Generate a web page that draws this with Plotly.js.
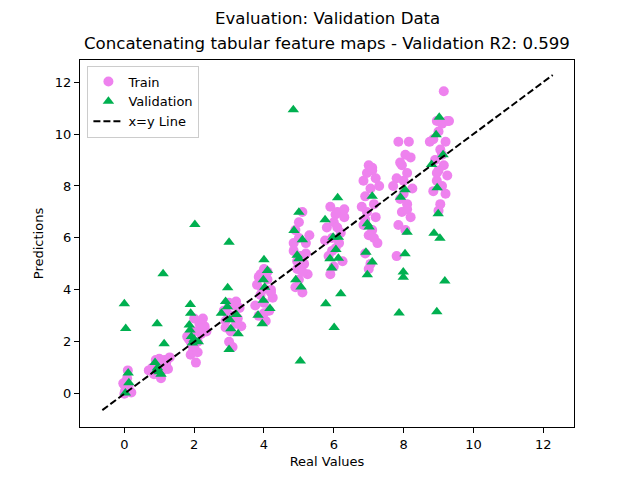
<!DOCTYPE html>
<html>
<head>
<meta charset="utf-8">
<script src="https://cdn.plot.ly/plotly-3.0.1.min.js"></script>
<style>html,body{margin:0;padding:0;background:#fff;}#chart{width:640px;height:480px;}</style>
</head>
<body>
<div id="chart"></div>
<script>
// Train data (real, predicted)
const trainReal = [
  0.0,0.05,0.1,-0.03,0.15,0.2,0.08,0.02,0.12,0.0,
  0.8,0.9,1.0,1.1,1.2,1.3,0.85,1.05,1.15,0.95,1.25,0.7,1.0,1.2,
  1.9,2.0,2.1,2.2,2.3,2.0,1.85,1.95,2.05,2.25,2.15,1.9,2.1,2.35,1.8,2.0,2.2,1.95,
  2.85,3.0,3.1,3.2,3.3,2.9,3.05,3.15,3.25,3.0,2.95,3.35,3.1,3.2,2.9,
  3.8,3.9,4.0,4.1,4.2,3.9,4.0,4.15,3.85,4.05,3.95,4.25,3.75,4.1,4.0,3.85,4.2,
  5.1,4.9,5.0,5.2,4.85,5.05,5.15,4.95,5.25,5.0,4.9,5.1,4.85,5.3,5.0,5.2,4.95,5.1,
  5.9,6.1,6.3,6.0,5.8,6.2,5.95,6.15,6.05,5.85,6.25,6.0,5.9,6.1,6.3,5.75,6.05,5.95,
  7.0,6.95,7.1,6.85,7.2,7.05,6.9,7.15,6.95,7.2,6.85,7.1,7.0,7.25,6.9,7.05,7.0,7.15,6.8,7.3,7.1,6.9,
  7.85,8.15,8.05,8.2,7.95,8.1,7.8,8.0,7.7,8.25,7.9,8.1,7.95,8.2,7.85,8.05,7.8,8.0,8.1,7.9,
  9.15,8.95,9.1,9.25,9.0,8.85,9.2,9.05,8.9,9.15,9.0,9.25,8.95,9.1,8.85,9.2,9.05,9.0,8.75,9.3,9.1,8.95
];
const trainPred = [
  0.35,0.2,0.9,0.4,0.1,0.05,0.6,0.1,0.3,0.0,
  1.0,1.3,1.1,0.9,1.2,1.4,0.75,0.6,1.3,0.85,0.95,0.9,1.35,1.05,
  1.5,1.8,2.0,2.3,2.6,2.4,2.1,1.6,1.2,2.9,2.7,2.0,1.6,2.4,2.2,2.9,2.5,1.85,
  3.2,3.5,3.0,2.7,3.3,2.8,2.4,3.4,2.9,2.0,3.1,2.6,1.8,3.55,2.55,
  4.2,4.6,4.8,4.4,4.0,3.8,3.5,3.2,3.0,2.8,4.0,3.7,3.4,4.7,3.1,4.5,3.9,
  7.0,6.3,6.0,5.8,5.5,5.3,5.0,4.8,4.6,4.4,4.1,3.9,5.8,6.1,6.6,5.4,5.1,4.7,
  7.2,7.0,6.8,6.6,6.4,6.2,6.0,5.8,5.6,5.3,5.1,4.9,4.6,6.4,7.1,5.9,6.9,5.5,
  8.8,8.5,8.6,8.2,8.3,7.9,7.6,7.3,7.0,6.8,6.5,6.3,6.1,5.8,5.4,5.0,4.8,6.0,7.2,8.0,8.7,6.7,
  9.7,9.7,9.2,9.1,8.8,8.5,8.3,8.2,8.0,7.9,7.5,7.3,7.0,6.8,6.5,6.3,5.3,7.7,7.1,8.9,
  11.65,10.5,10.4,10.5,10.1,9.8,9.7,9.4,9.0,8.8,8.6,8.4,8.2,8.0,7.8,7.7,7.3,7.05,9.7,10.5,9.2,8.5
];

// Validation data (real, predicted)
const valReal = [
  0.0,0.04,0.11,0.13,0.03,
  1.11,0.94,1.14,0.88,0.95,1.0,1.05,0.92,
  2.02,1.89,1.9,1.86,1.88,1.92,2.12,2.0,1.95,
  3.0,2.96,2.9,2.95,2.78,3.21,3.02,3.05,3.26,3.0,
  4.0,4.1,3.98,3.98,4.17,3.83,3.95,4.02,
  4.84,5.0,4.86,5.1,4.95,5.0,4.91,5.06,5.04,
  6.11,5.75,5.98,6.13,6.06,5.89,6.13,5.94,6.2,5.77,6.01,
  7.1,6.96,7.01,6.92,7.1,6.96,
  8.04,7.91,8.1,8.04,7.99,7.99,7.87,
  9.02,8.93,9.13,8.8,8.96,8.99,8.87,9.04,9.18,8.95
];
const valPred = [
  3.47,2.51,0.8,0.42,0.03,
  4.62,2.7,1.93,1.2,1.0,0.85,0.75,0.9,
  6.52,3.44,3.1,2.65,2.45,2.2,2.0,2.1,1.95,
  5.83,4.08,3.55,3.35,3.1,3.05,2.85,2.5,2.31,1.7,
  5.16,4.75,4.39,3.6,3.28,3.02,2.7,4.1,
  10.93,6.99,6.29,5.93,5.33,5.2,4.39,4.11,1.26,
  7.55,6.7,6.03,6.03,5.55,5.2,5.22,4.84,3.85,3.47,2.55,
  7.6,6.55,6.42,5.45,5.07,4.58,
  7.85,7.57,6.22,5.39,4.69,4.49,3.11,
  10.65,9.97,9.2,8.83,7.93,6.93,6.18,5.99,4.34,3.16
];

// x=y reference line endpoints
const lineVals = [-0.63, 12.27];

const titleLines = ['Evaluation: Validation Data',
                    'Concatenating tabular feature maps - Validation R2: 0.599'];

const font = {family: 'DejaVu Sans, sans-serif', color: '#000'};

const traces = [
  {x: trainReal, y: trainPred, mode: 'markers', type: 'scatter', name: 'Train',
   marker: {color: '#ee82ee', size: 10, symbol: 'circle'}},
  {x: valReal, y: valPred, mode: 'markers', type: 'scatter', name: 'Validation',
   marker: {color: '#00b050', size: 10, symbol: 'triangle-up'}},
  {x: lineVals, y: lineVals, mode: 'lines', type: 'scatter', name: 'x=y Line',
   line: {color: '#000', width: 2, dash: '7px,3px'}}
];

const axisCommon = {
  showgrid: false, zeroline: false, showline: true, mirror: true,
  linecolor: '#000', linewidth: 1, ticks: 'outside', ticklen: 5, tickwidth: 1,
  tickcolor: '#000', tickfont: Object.assign({size: 13}, font)
};

const layout = {
  width: 640, height: 480,
  paper_bgcolor: '#fff', plot_bgcolor: '#fff',
  margin: {l: 80, r: 66, t: 60, b: 53},
  annotations: [
    {text: titleLines[0], xref: 'paper', yref: 'paper', x: 0.5, y: 1.1144, xanchor: 'center', yanchor: 'middle',
     showarrow: false, font: Object.assign({size: 16.6}, font)},
    {text: titleLines[1], xref: 'paper', yref: 'paper', x: 0.5, y: 1.0463, xanchor: 'center', yanchor: 'middle',
     showarrow: false, font: Object.assign({size: 16.6}, font)}
  ],
  xaxis: Object.assign({}, axisCommon, {range: [-1.27, 12.88], tickvals: [0,2,4,6,8,10,12],
          title: {text: 'Real Values', font: Object.assign({size: 13}, font), standoff: 6}}),
  yaxis: Object.assign({}, axisCommon, {range: [-1.28, 12.85], tickvals: [0,2,4,6,8,10,12],
          title: {text: 'Predictions', font: Object.assign({size: 13}, font), standoff: 8}}),
  legend: {x: 0.015, y: 0.985, xanchor: 'left', yanchor: 'top', bgcolor: 'rgba(255,255,255,0.8)',
           bordercolor: '#cccccc', borderwidth: 1, font: Object.assign({size: 13}, font),
           tracegroupgap: 0},
  showlegend: true
};

Plotly.newPlot('chart', traces, layout, {displayModeBar: false, staticPlot: true});
</script>
</body>
</html>
